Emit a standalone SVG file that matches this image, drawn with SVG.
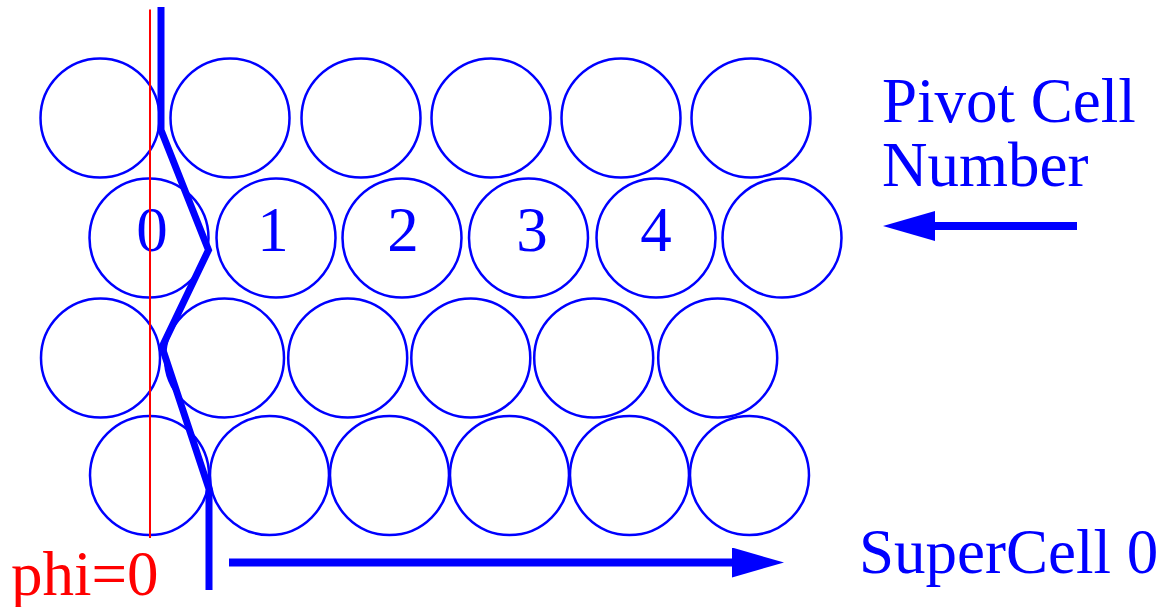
<svg xmlns="http://www.w3.org/2000/svg" width="1164" height="607" viewBox="0 0 1164 607">
<style>
.cell{fill:none;stroke:#0000ff;stroke-width:2.5}
.t{font-family:"Liberation Serif","Times New Roman",serif;font-size:63px;fill:#0000ff}
.num{text-anchor:middle}
.red{fill:#ff0000}
.thick{fill:none;stroke:#0000ff;stroke-width:7;stroke-linejoin:miter;stroke-miterlimit:10}
.arr{fill:none;stroke:#0000ff;stroke-width:8}
</style>
<defs>
<marker id="ah" markerUnits="userSpaceOnUse" markerWidth="52" markerHeight="30" viewBox="0 0 52 30" refX="4" refY="15" orient="auto">
<path d="M0,0 L52,15 L0,30 Z" fill="#0000ff"/>
</marker>
</defs>
<g id="row1">
<g id="c1_0"><circle class="cell" cx="100" cy="118" r="59.5"/></g>
<g id="c1_1"><circle class="cell" cx="230" cy="118" r="59.5"/></g>
<g id="c1_2"><circle class="cell" cx="361" cy="118" r="59.5"/></g>
<g id="c1_3"><circle class="cell" cx="491" cy="118" r="59.5"/></g>
<g id="c1_4"><circle class="cell" cx="621" cy="118" r="59.5"/></g>
<g id="c1_5"><circle class="cell" cx="751" cy="118" r="59.5"/></g>
</g>
<g id="row2">
<g id="c2_0"><circle class="cell" cx="149" cy="238" r="59.5"/><text class="t num" x="152" y="251">0</text></g>
<g id="c2_1"><circle class="cell" cx="276" cy="238" r="59.5"/><text class="t num" x="273" y="251">1</text></g>
<g id="c2_2"><circle class="cell" cx="402" cy="238" r="59.5"/><text class="t num" x="403" y="251">2</text></g>
<g id="c2_3"><circle class="cell" cx="528.5" cy="238" r="59.5"/><text class="t num" x="532" y="251">3</text></g>
<g id="c2_4"><circle class="cell" cx="656" cy="238" r="59.5"/><text class="t num" x="656" y="251">4</text></g>
<g id="c2_5"><circle class="cell" cx="782" cy="238" r="59.5"/></g>
</g>
<g id="row3">
<g id="c3_0"><circle class="cell" cx="100.5" cy="358" r="59.5"/></g>
<g id="c3_1"><circle class="cell" cx="224.5" cy="358" r="59.5"/></g>
<g id="c3_2"><circle class="cell" cx="347.7" cy="358" r="59.5"/></g>
<g id="c3_3"><circle class="cell" cx="470.8" cy="358" r="59.5"/></g>
<g id="c3_4"><circle class="cell" cx="593.7" cy="358" r="59.5"/></g>
<g id="c3_5"><circle class="cell" cx="717.7" cy="358" r="59.5"/></g>
</g>
<g id="row4">
<g id="c4_0"><circle class="cell" cx="149.5" cy="475.5" r="59.5"/></g>
<g id="c4_1"><circle class="cell" cx="269.5" cy="475.5" r="59.5"/></g>
<g id="c4_2"><circle class="cell" cx="389.5" cy="475.5" r="59.5"/></g>
<g id="c4_3"><circle class="cell" cx="509.5" cy="475.5" r="59.5"/></g>
<g id="c4_4"><circle class="cell" cx="629.5" cy="475.5" r="59.5"/></g>
<g id="c4_5"><circle class="cell" cx="749.5" cy="475.5" r="59.5"/></g>
</g>
<g id="connectors">
<line id="phi0" x1="150" y1="9.5" x2="150" y2="538" stroke="#ff0000" stroke-width="2"/>
<polyline id="boundary" class="thick" points="161,7 161,130 208.5,250 162,347 209,489 209,590"/>
<line id="supercell-arrow" class="arr" x1="229" y1="562.5" x2="736" y2="562.5" marker-end="url(#ah)"/>
<line id="pivot-arrow" class="arr" x1="1077" y1="226" x2="931" y2="226" marker-end="url(#ah)"/>
</g>
<g id="labels">
<text class="t" x="882" y="122">Pivot Cell</text>
<text class="t" x="882" y="186">Number</text>
<text class="t" x="859" y="573">SuperCell 0</text>
<text class="t red" x="11" y="595">phi=0</text>
</g>
</svg>
